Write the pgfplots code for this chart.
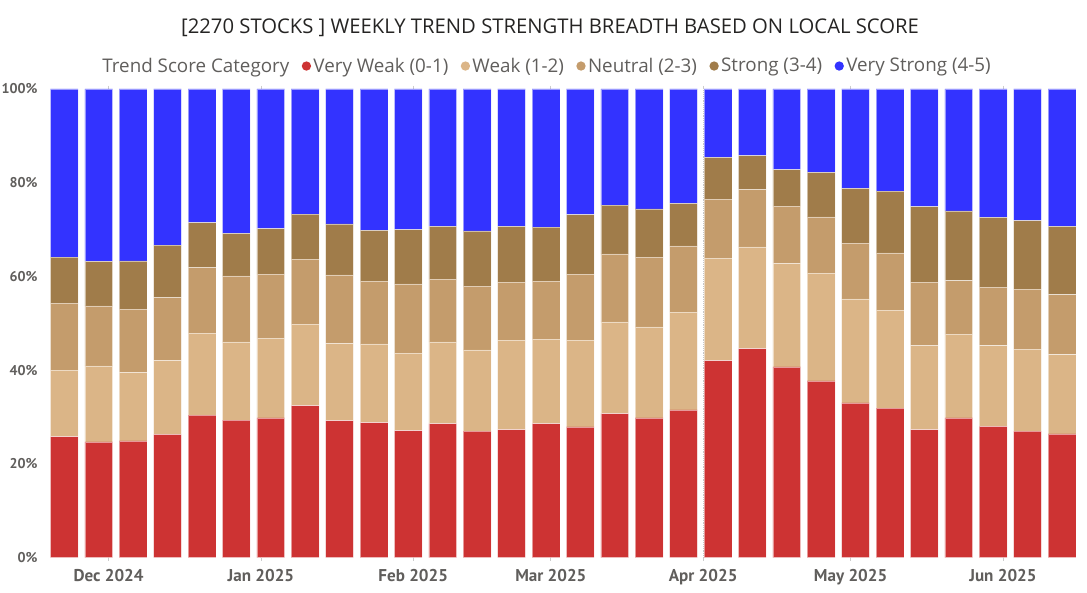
\documentclass[border=0pt]{standalone}
\usepackage{pgfplots}
\pgfplotsset{compat=1.18}
\usepackage{pgfplotstable}
\usepackage{fontspec}
\setmainfont{Open Sans}
\newfontfamily\tickfont{PT Sans}
\definecolor{cVW}{RGB}{205,51,51}
\definecolor{cW}{RGB}{219,181,135}
\definecolor{cN}{RGB}{196,156,108}
\definecolor{cS}{RGB}{160,124,74}
\definecolor{cVS}{RGB}{51,51,255}
\definecolor{cTick}{RGB}{96,94,92}
\definecolor{cTitle}{RGB}{37,36,35}

\pgfplotstableread{
x vw w n s vs
0 25.8 14.2 14.3 9.8 35.9
1 24.7 16.2 12.8 9.5 36.8
2 24.9 14.6 13.5 10.3 36.7
3 26.3 15.8 13.4 11.2 33.3
4 30.4 17.5 14.0 9.6 28.5
5 29.3 16.7 14.1 9.1 30.8
6 29.8 17.0 13.7 9.7 29.8
7 32.4 17.4 13.9 9.6 26.7
8 29.2 16.5 14.6 10.9 28.8
9 28.8 16.8 13.4 10.8 30.2
10 27.1 16.5 14.8 11.6 30.0
11 28.6 17.4 13.4 11.3 29.3
12 27.0 17.3 13.6 11.8 30.3
13 27.3 19.1 12.4 11.9 29.3
14 28.6 18.0 12.4 11.5 29.5
15 27.9 18.5 14.1 12.7 26.8
16 30.7 19.6 14.5 10.4 24.8
17 29.8 19.4 14.9 10.3 25.6
18 31.5 20.9 14.1 9.1 24.4
19 42.0 21.9 12.6 8.9 14.6
20 44.6 21.7 12.3 7.2 14.2
21 40.7 22.1 12.2 7.8 17.2
22 37.7 23.0 12.0 9.5 17.8
23 33.0 22.2 11.9 11.7 21.2
24 31.9 20.9 12.2 13.2 21.8
25 27.3 18.0 13.5 16.1 25.1
26 29.8 17.9 11.4 14.9 26.0
27 28.0 17.2 12.5 14.9 27.4
28 27.0 17.5 12.8 14.6 28.1
29 26.4 16.9 12.8 14.6 29.3
}\data

\begin{document}
\begin{tikzpicture}
\path[use as bounding box] (0,0) rectangle (815.25pt,444pt);
\node[font=\fontsize{15.2}{18}\selectfont, text=cTitle] at (412.5pt,423pt) {[2270 STOCKS ] WEEKLY TREND STRENGTH BREADTH BASED ON LOCAL SCORE};
\begin{axis}[
  at={(35.325pt,25.875pt)}, anchor=south west,
  scale only axis, width=774pt, height=351.375pt,
  ybar stacked, bar width=0.808,
  xmin=-0.5, xmax=29.5, ymin=0, ymax=100,
  axis line style={draw=none},
  ytick={0,20,40,60,80,100},
  yticklabels={0\%,20\%,40\%,60\%,80\%,100\%},
  yticklabel style={font=\tickfont\bfseries\fontsize{10.6}{13}\selectfont, text=cTick, inner sep=0pt, xshift=-4.5pt},
  xtick={1.286,5.714,10.143,14.143,18.571,22.857,27.286},
  xticklabels={Dec 2024,Jan 2025,Feb 2025,Mar 2025,Apr 2025,May 2025,Jun 2025},
  xticklabel style={font=\tickfont\bfseries\fontsize{12.8}{15}\selectfont, text=cTick, inner sep=0pt, anchor=base, yshift=-15.4pt},
  xmajorgrids,
  major x grid style={densely dotted, color=gray!45, line width=0.6pt},
  ytick style={draw=none},
  xtick style={draw=gray!40, line width=0.5pt},
  tick align=outside, major tick length=2.5pt,
  legend style={draw=none, fill=none, at={(0.484,1.049)}, anchor=center,
    font=\fontsize{14.1}{16}\selectfont, text=cTick,
    nodes={inner xsep=1.8pt, inner ysep=0pt},
    /tikz/every even column/.append style={column sep=7.5pt}},
  legend columns=-1,
  legend image code/.code={\fill[#1, draw=none] (0pt,0pt) circle (3.5pt);},
]
\addlegendimage{empty legend}
\addlegendentry{Trend Score Category}
\addplot[fill=cVW, draw=white, draw opacity=0.5, line width=0.4pt] table[x=x,y=vw]{\data};
\addlegendentry{Very Weak (0-1)}
\addplot[fill=cW, draw=white, draw opacity=0.5, line width=0.4pt] table[x=x,y=w]{\data};
\addlegendentry{Weak (1-2)}
\addplot[fill=cN, draw=white, draw opacity=0.5, line width=0.4pt] table[x=x,y=n]{\data};
\addlegendentry{Neutral (2-3)}
\addplot[fill=cS, draw=white, draw opacity=0.5, line width=0.4pt] table[x=x,y=s]{\data};
\addlegendentry{Strong (3-4)}
\addplot[fill=cVS, draw=white, draw opacity=0.5, line width=0.4pt] table[x=x,y=vs]{\data};
\addlegendentry{Very Strong (4-5)}
\end{axis}
\end{tikzpicture}
\end{document}
